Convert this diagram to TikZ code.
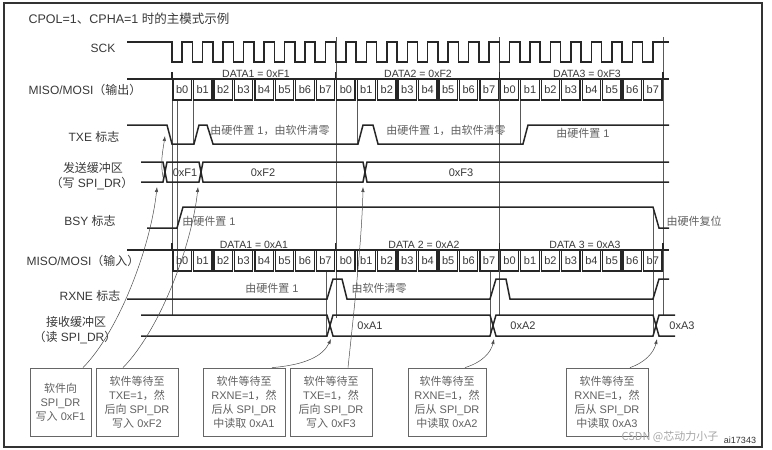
\documentclass[tikz,border=0pt]{standalone}
\usepackage{fontspec}
\setmainfont{Liberation Sans}
\newfontfamily\cjk{Noto Sans CJK SC}
\newcommand{\zh}[1]{{\cjk #1}}
\usetikzlibrary{arrows.meta,calc}
\colorlet{ink}{black!85}
\colorlet{txt}{black!78}
\colorlet{note}{black!62}
\def\bw{20.458}

\begin{document}
\begin{tikzpicture}[x=1pt,y=-1pt,>={Latex[length=5pt,width=3.5pt]},
  wave/.style={line width=1.5pt,ink},
  guide/.style={line width=0.5pt,black!65},
  bitcell/.style={draw=ink,line width=1.3pt,minimum width=18.4pt,minimum height=21pt,inner sep=0pt,font=\fontsize{11}{12}\selectfont,text=txt},
  sig/.style={font=\fontsize{12}{14}\selectfont,text=txt},
  datalbl/.style={font=\fontsize{10.5}{12}\selectfont,text=txt},
  ann/.style={font=\fontsize{11}{13}\selectfont,text=note},
  hexv/.style={font=\fontsize{11}{13}\selectfont,text=txt},
  swbox/.style={draw=black!60,line width=0.8pt,inner sep=0pt,minimum height=68pt,align=center,font=\fontsize{11}{14}\selectfont,text=note},
  link/.style={->,line width=0.5pt,black!70}]
\useasboundingbox (0,0) rectangle (772,450);
\draw[line width=1.2pt,black!80] (4,3) rectangle (762,447);

% title and signal names
\node[sig,font=\fontsize{12.5}{14}\selectfont] (title) at (129,19) {CPOL=1\zh{、}CPHA=1 \zh{时的主模式示例}};
\node[sig] (nsck) at (103,48) {SCK};
\node[sig] (nout) at (85,90) {MISO/MOSI\zh{（输出）}};
\node[sig] (ntxe) at (94,137) {TXE \zh{标志}};
\node[sig] (ntxb) at (93,168) {\zh{发送缓冲区}};
\node[sig] (ntxw) at (92,184) {\zh{（写} SPI\_DR\zh{）}};
\node[sig] (nbsy) at (90,221) {BSY \zh{标志}};
\node[sig] (nin) at (83,261) {MISO/MOSI\zh{（输入）}};
\node[sig] (nrxne) at (90,296) {RXNE \zh{标志}};
\node[sig] (nrxb) at (76,322) {\zh{接收缓冲区}};
\node[sig] (nrxr) at (75,338) {\zh{（读} SPI\_DR\zh{）}};

% guide lines
\draw[guide] (172,79) -- (172,315);
\draw[guide] (177,100) -- (177,270);
\draw[guide] (193,100) -- (193,144);
\draw[guide] (336,37) -- (336,318);
\draw[guide] (357,100) -- (357,144);
\draw[guide] (499,37) -- (499,315);
\draw[guide] (520,100) -- (520,144);
\draw[guide] (663,37) -- (663,315);
\draw[guide] (326,270) -- (326,336);
\draw[guide] (490,270) -- (490,336);
\draw[guide] (653,207) -- (653,336);

% SCK
\draw[wave] (127,42) -- (172,42)
  \foreach \i in {0,...,23}{ -- ({172+\i*\bw},62) -- ({172+(\i+.5)*\bw},62) -- ({172+(\i+.5)*\bw},42) -- ({172+(\i+1)*\bw},42)} -- (669,42);

% MISO/MOSI out
\draw[wave] (127,79) -- (669,79);
\foreach \k in {0,...,3} \draw[wave] ({172+8*\k*\bw},72) -- ({172+8*\k*\bw},79);
\foreach \i [evaluate=\i as \b using {int(mod(\i,8))}] in {0,...,23}
  \node[bitcell] (o\i) at ({172+(\i+.5)*\bw},89.5) {b\b};
\node[datalbl] (d1) at (256,73.5) {DATA1 = 0xF1};
\node[datalbl] (d2) at (418,73.5) {DATA2 = 0xF2};
\node[datalbl] (d3) at (587,73.5) {DATA3 = 0xF3};

% TXE
\draw[wave] (127,125) -- (167,125) -- (172,144) -- (194,144) -- (199,125) -- (207,125) -- (213,144) -- (358,144) -- (363,125) -- (373,125) -- (378,144) -- (523,144) -- (528,125) -- (669,125);
\node[ann] (t1) at (270,130) {\zh{由硬件置} 1\zh{，由软件清零}};
\node[ann] (t2) at (446,130) {\zh{由硬件置} 1\zh{，由软件清零}};
\node[ann] (t3) at (583,133) {\zh{由硬件置} 1};

% Tx buffer
\draw[wave] (141,162) -- (163,162) -- (167,182) -- (199,182) -- (203,162) -- (363,162) -- (367,182) -- (669,182);
\draw[wave] (141,182) -- (163,182) -- (167,162) -- (199,162) -- (203,182) -- (363,182) -- (367,162) -- (669,162);
\node[hexv] (f1) at (185,173) {0xF1};
\node[hexv] (f2) at (263,173) {0xF2};
\node[hexv] (f3) at (461,173) {0xF3};

% BSY
\draw[wave] (147,228) -- (177,228) -- (183,207) -- (653,207) -- (659,228) -- (669,228);
\node[ann] (b1) at (209,221) {\zh{由硬件置} 1};
\node[ann] (b2) at (694,221) {\zh{由硬件复位}};

% MISO/MOSI in
\draw[wave] (127,250) -- (669,250);
\foreach \k in {0,...,3} \draw[wave] ({172+8*\k*\bw},243) -- ({172+8*\k*\bw},250);
\foreach \i [evaluate=\i as \b using {int(mod(\i,8))}] in {0,...,23}
  \node[bitcell] (n\i) at ({172+(\i+.5)*\bw},260.5) {b\b};
\node[datalbl] (a1) at (254,244.5) {DATA1 = 0xA1};
\node[datalbl] (a2) at (424,244.5) {DATA 2 = 0xA2};
\node[datalbl] (a3) at (585,244.5) {DATA 3 = 0xA3};

% RXNE
\draw[wave] (127,299) -- (327,299) -- (333,279) -- (342,279) -- (347,299) -- (490,299) -- (496,279) -- (506,279) -- (510,299) -- (653,299) -- (659,279) -- (669,279);
\node[ann] (r1) at (272,288) {\zh{由硬件置} 1};
\node[ann] (r2) at (379,288) {\zh{由软件清零}};

% Rx buffer
\draw[wave] (141,315) -- (327,315) -- (333,336) -- (490,336) -- (496,315) -- (653,315) -- (659,336) -- (675,336);
\draw[wave] (141,336) -- (327,336) -- (333,315) -- (490,315) -- (496,336) -- (653,336) -- (659,315) -- (675,315);
\node[hexv] (h1) at (370,326) {0xA1};
\node[hexv] (h2) at (523,326) {0xA2};
\node[hexv] (h3) at (682,326) {0xA3};

% software steps
\node[swbox,minimum width=61pt] (sw1) at (60.5,402) {\zh{软件向}\\SPI\_DR\\\zh{写入} 0xF1};
\node[swbox,minimum width=82pt] (sw2) at (137,402) {\zh{软件等待至}\\TXE=1\zh{，然}\\\zh{后向} SPI\_DR\\\zh{写入} 0xF2};
\node[swbox,minimum width=82pt] (sw3) at (244,402) {\zh{软件等待至}\\RXNE=1\zh{，然}\\\zh{后从} SPI\_DR\\\zh{中读取} 0xA1};
\node[swbox,minimum width=82pt] (sw4) at (331,402) {\zh{软件等待至}\\TXE=1\zh{，然}\\\zh{后向} SPI\_DR\\\zh{写入} 0xF3};
\node[swbox,minimum width=78pt] (sw5) at (447,402) {\zh{软件等待至}\\RXNE=1\zh{，然}\\\zh{后从} SPI\_DR\\\zh{中读取} 0xA2};
\node[swbox,minimum width=82pt] (sw6) at (607,402) {\zh{软件等待至}\\RXNE=1\zh{，然}\\\zh{后从} SPI\_DR\\\zh{中读取} 0xA3};

% arrows to events
\coordinate (txF1) at (157,187);
\coordinate (txF2) at (198,187);
\coordinate (txF3) at (363,187);
\coordinate (rxA1) at (331,339);
\coordinate (rxA2) at (494,339);
\coordinate (rxA3) at (657,339);
\coordinate (txwr) at (163,177);
\coordinate (txeclr) at (165,136);
\draw[link] ([xshift=22.5pt]sw1.north) .. controls (120,330) and (151,245) .. (txF1);
\draw[link] ([xshift=-14pt]sw2.north) .. controls (160,330) and (192,245) .. (txF2);
\draw[link] ([xshift=28pt]sw3.north) .. controls (305,365) and (323,356) .. (rxA1);
\draw[link] ([xshift=17pt]sw4.north) .. controls (353,320) and (362,240) .. (txF3);
\draw[link] ([xshift=18pt]sw5.north) .. controls (483,362) and (491,352) .. (rxA2);
\draw[link] ([xshift=23pt]sw6.north) .. controls (646,362) and (654,352) .. (rxA3);
\draw[link] (txwr) .. controls (160,162) and (163,150) .. (txeclr);

\node[font=\cjk\fontsize{11}{12}\selectfont,text=black!35] (wm) at (670,437) {CSDN @芯动力小子};
\node[font=\fontsize{9}{10}\selectfont,text=black!80] (fig) at (740,440) {ai17343};
\end{tikzpicture}
\end{document}
